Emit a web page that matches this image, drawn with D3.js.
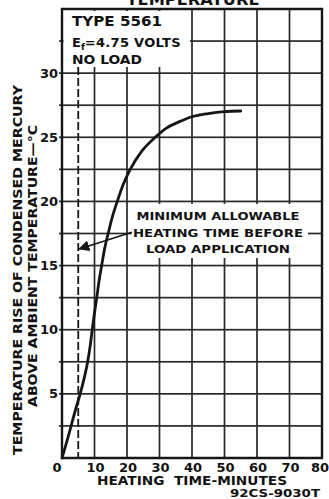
<!DOCTYPE html>
<html>
<head>
<meta charset="utf-8">
<script src="https://cdn.jsdelivr.net/npm/d3@7"></script>
<style>
  html, body { margin: 0; padding: 0; background: #fff; }
  svg { display: block; }
  text { font-family: "DejaVu Sans", "Liberation Sans", sans-serif; font-weight: bold; fill: #111; }
</style>
</head>
<body>
<svg id="chart" width="329" height="499"></svg>
<script>
// Heating curve: temperature rise of condensed mercury vs heating time (type 5561)
const heatMinutes = [0, 1.5, 2.8, 4.2, 5.6, 6.9, 7.9, 8.7, 9.3, 10.0, 10.7, 11.4, 12.2, 13.1, 14.2, 15.5, 17.0, 18.8, 21.0, 24.5, 28.7, 32, 36, 40, 45, 50, 55];
const tempRise    = [0, 1.3, 2.5, 3.8, 5.0, 6.3, 7.5, 8.8, 10.0, 11.3, 12.5, 13.8, 15.0, 16.3, 17.5, 18.8, 20.0, 21.3, 22.5, 23.9, 25.0, 25.7, 26.2, 26.6, 26.85, 27.0, 27.05];

const xTickValues = [0, 10, 20, 30, 40, 50, 60, 70, 80];
const yTickValues = [5, 10, 15, 20, 25, 30];
const xGridValues = [10, 20, 30, 40, 50, 60, 70];
const yGridValues = [2.5, 5, 7.5, 10, 12.5, 15, 17.5, 20, 22.5, 25, 27.5, 30, 32.5];

const minHeatTime = 5;            // dashed marker, minutes
const arrowFrom = [21.5, 17.6];   // leader from the note to the marker
const arrowTo   = [5.3, 16.3];

const titleText = "TEMPERATURE";
const legendLines = ["TYPE 5561", "NO LOAD"];
const noteLines = ["MINIMUM ALLOWABLE", "HEATING TIME BEFORE", "LOAD APPLICATION"];
const yTitleLines = ["TEMPERATURE RISE OF CONDENSED MERCURY", "ABOVE AMBIENT TEMPERATURE\u2014\u00B0C"];
const xTitle = "HEATING  TIME-MINUTES";
const figureCode = "92CS-9030T";

const svg = d3.select("#chart");
const ink = "#161616";

const x = d3.scaleLinear().domain([0, 80]).range([62, 322]);
const y = d3.scaleLinear().domain([0, 35]).range([458, 9]);

// clear areas behind the legend block and the note (grid is interrupted there)
const legendArea = { x0: x(0), x1: 190, y0: 11, y1: 67 };
const noteArea   = { x0: 130, x1: 308, y0: 204, y1: 258 };
const clearAreas = [legendArea, noteArea];

function openSpans(a, b, cuts) {
  let spans = [[a, b]];
  cuts.forEach(([c0, c1]) => {
    spans = spans.flatMap(([s0, s1]) => {
      if (c1 <= s0 || c0 >= s1) return [[s0, s1]];
      const out = [];
      if (c0 > s0) out.push([s0, c0]);
      if (c1 < s1) out.push([c1, s1]);
      return out;
    });
  });
  return spans;
}

// grid as thin filled bars: verticals every 10 min, horizontals every 2.5 °C
const gw = 1.7;
const gridBars = [];
xGridValues.forEach(v => {
  const px = x(v);
  const cuts = clearAreas.filter(r => px > r.x0 && px < r.x1).map(r => [r.y0, r.y1]);
  openSpans(y(35), y(0), cuts).forEach(([a, b]) => gridBars.push({ x: px - gw / 2, y: a, w: gw, h: b - a }));
});
yGridValues.forEach(v => {
  const py = y(v);
  const cuts = clearAreas.filter(r => py > r.y0 && py < r.y1).map(r => [r.x0 + 1.5, r.x1]);
  openSpans(x(0) - 3, x(80), cuts).forEach(([a, b]) => gridBars.push({ x: a, y: py - gw / 2, w: b - a, h: gw }));
});
svg.append("g").selectAll("rect").data(gridBars).enter().append("rect")
  .attr("x", d => d.x).attr("y", d => d.y).attr("width", d => d.w).attr("height", d => d.h)
  .attr("fill", "#2a2a2a");

// dashed minimum heating time marker
svg.append("line")
  .attr("x1", x(minHeatTime)).attr("x2", x(minHeatTime))
  .attr("y1", legendArea.y1).attr("y2", y(0))
  .attr("stroke", ink).attr("stroke-width", 1.8).attr("stroke-dasharray", "8,3");

// frame
svg.append("path")
  .attr("d", `M${x(0)},${y(35)}H${x(80)}V${y(0)}H${x(0)}Z`)
  .attr("fill", "none").attr("stroke", ink).attr("stroke-width", 2.4);

// heating curve
const curve = d3.line().x(d => x(d[0])).y(d => y(d[1])).curve(d3.curveMonotoneX);
svg.append("path")
  .datum(heatMinutes.map((m, i) => [m, tempRise[i]]))
  .attr("d", curve)
  .attr("fill", "none").attr("stroke", ink).attr("stroke-width", 2.8).attr("stroke-linecap", "round");

// leader arrow
svg.append("defs").append("marker")
  .attr("id", "head").attr("viewBox", "0 0 10 10").attr("refX", 9).attr("refY", 5)
  .attr("markerWidth", 7).attr("markerHeight", 7).attr("orient", "auto")
  .append("path").attr("d", "M0,0 L10,5 L0,10 Z").attr("fill", ink);
svg.append("line")
  .attr("x1", x(arrowFrom[0])).attr("y1", y(arrowFrom[1]))
  .attr("x2", x(arrowTo[0])).attr("y2", y(arrowTo[1]))
  .attr("stroke", ink).attr("stroke-width", 1.6).attr("marker-end", "url(#head)");

// note text
const noteWidths = [163, 170, 144];
const noteBaselines = [220, 236.5, 253];
svg.selectAll("text.note").data(noteLines).enter().append("text")
  .attr("class", "note")
  .attr("x", 218).attr("y", (d, i) => noteBaselines[i])
  .attr("text-anchor", "middle").attr("font-size", 11)
  .attr("textLength", (d, i) => noteWidths[i]).attr("lengthAdjust", "spacingAndGlyphs")
  .text(d => d);

// legend text
svg.append("text").attr("x", 72).attr("y", 26).attr("font-size", 13.5)
  .attr("textLength", 90).attr("lengthAdjust", "spacingAndGlyphs").text(legendLines[0]);
const ef = svg.append("text").attr("x", 72).attr("y", 47).attr("font-size", 13);
ef.append("tspan").text("E");
ef.append("tspan").attr("font-size", 9).attr("dy", 3).text("f");
ef.append("tspan").attr("dy", -3).attr("font-size", 13).attr("letter-spacing", 0.3).text("=4.75 VOLTS");
svg.append("text").attr("x", 72).attr("y", 64).attr("font-size", 13)
  .attr("textLength", 70).attr("lengthAdjust", "spacingAndGlyphs").text(legendLines[1]);

// title (runs off the top edge)
svg.append("text").attr("x", 193).attr("y", 5).attr("text-anchor", "middle").attr("font-size", 15)
  .attr("textLength", 133).attr("lengthAdjust", "spacingAndGlyphs").text(titleText);

// axes labels
svg.selectAll("text.xt").data(xTickValues).enter().append("text")
  .attr("class", "xt")
  .attr("x", d => d === 0 ? x(d) - 5 : d === 80 ? x(d) - 2 : x(d) + 1)
  .attr("y", 472).attr("text-anchor", "middle").attr("font-size", 13)
  .text(d => d);
svg.selectAll("text.yt").data(yTickValues).enter().append("text")
  .attr("class", "yt")
  .attr("x", 58).attr("y", d => y(d) + 4.5).attr("text-anchor", "end").attr("font-size", 13)
  .text(d => d);

svg.append("text").attr("x", 192).attr("y", 485).attr("text-anchor", "middle").attr("font-size", 11.5)
  .style("white-space", "pre")
  .attr("textLength", 190).attr("lengthAdjust", "spacingAndGlyphs").text(xTitle);
svg.append("text").attr("x", 320).attr("y", 497).attr("text-anchor", "end").attr("font-size", 11)
  .attr("textLength", 90).attr("lengthAdjust", "spacingAndGlyphs").text(figureCode);

const yTitlePos = [[22, 270, 370], [36.5, 266, 282]];
svg.selectAll("text.ytitle").data(yTitleLines).enter().append("text")
  .attr("class", "ytitle")
  .attr("transform", (d, i) => `translate(${yTitlePos[i][0]},${yTitlePos[i][1]}) rotate(-90)`)
  .attr("text-anchor", "middle").attr("font-size", 13)
  .attr("textLength", (d, i) => yTitlePos[i][2]).attr("lengthAdjust", "spacingAndGlyphs")
  .text(d => d);
</script>
</body>
</html>
